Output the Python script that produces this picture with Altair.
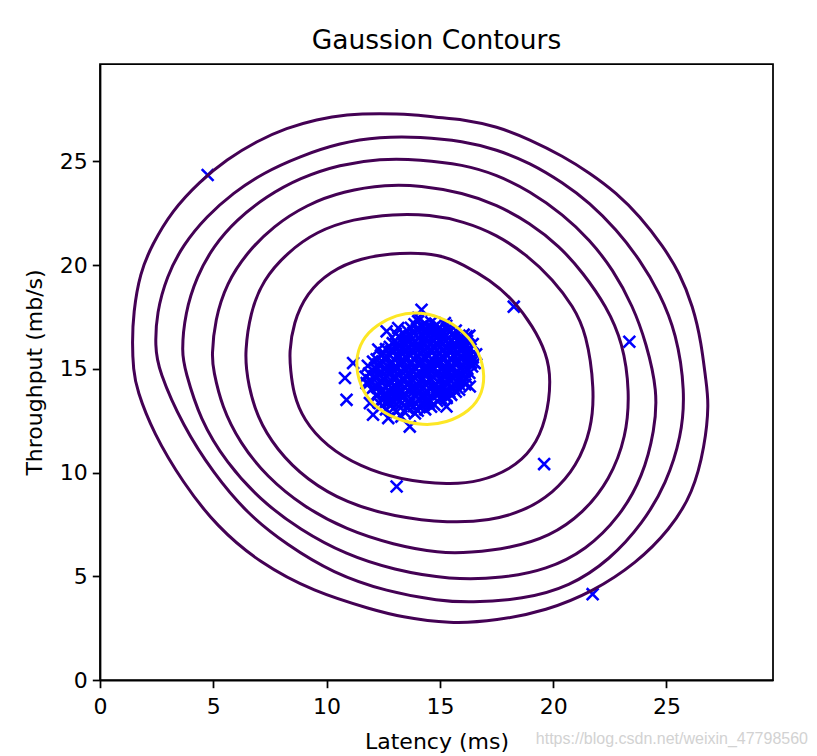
import altair as alt
import pandas as pd

# ---- contour lines (data units), clockwise ----
c1_x = [1.47, 1.42, 1.47, 1.76, 2.30, 3.16, 4.41, 5.59, 6.91, 8.24, 9.56, 10.88, 12.35, 13.82, 14.78, 16.03, 17.50, 18.97, 20.44, 21.61, 22.79, 23.82, 24.85, 25.58, 26.17, 26.54, 26.73, 26.88, 26.69, 26.17, 25.14, 23.67, 21.76, 19.70, 17.50, 15.44, 13.23, 12.06, 9.41, 7.06, 5.15, 3.67, 2.35, 1.62]
c1_y = [14.96, 16.25, 17.70, 19.63, 20.99, 22.60, 24.05, 25.10, 25.98, 26.62, 27.03, 27.27, 27.32, 27.27, 27.13, 27.03, 26.70, 26.06, 25.25, 24.45, 23.49, 22.36, 20.91, 19.63, 18.02, 16.25, 14.48, 13.35, 11.26, 9.01, 7.24, 5.63, 4.26, 3.34, 2.86, 2.70, 3.05, 3.38, 4.26, 5.63, 7.40, 9.49, 11.91, 14.00]

c2_x = [2.57, 2.43, 2.50, 2.94, 3.67, 4.71, 5.88, 7.20, 8.82, 10.59, 12.35, 14.12, 16.03, 17.50, 18.97, 20.44, 21.61, 22.79, 23.82, 24.70, 25.44, 25.83, 25.66, 25.00, 23.96, 22.50, 20.73, 18.67, 16.32, 15.00, 12.65, 10.29, 8.24, 6.47, 5.00, 3.67]
c2_y = [14.96, 16.09, 17.70, 19.46, 20.99, 22.36, 23.49, 24.45, 25.25, 25.90, 26.19, 26.19, 25.98, 25.58, 24.94, 23.97, 23.01, 21.72, 20.27, 18.66, 16.73, 13.90, 11.74, 9.49, 7.56, 5.79, 4.50, 3.89, 3.73, 3.81, 4.26, 5.15, 6.52, 8.04, 9.98, 12.22]

c3_x = [3.75, 3.60, 3.75, 4.27, 5.00, 6.03, 7.35, 8.82, 10.59, 12.35, 14.12, 16.03, 17.50, 18.97, 20.44, 21.61, 22.64, 23.52, 24.11, 24.61, 24.48, 23.96, 22.94, 21.47, 19.70, 17.79, 15.44, 12.94, 10.88, 8.82, 7.06, 5.59, 4.41]
c3_y = [14.96, 15.77, 17.70, 19.46, 20.91, 22.20, 23.32, 24.21, 24.85, 25.14, 25.10, 24.85, 24.37, 23.57, 22.44, 21.23, 19.79, 18.02, 16.25, 13.90, 12.07, 9.81, 7.88, 6.27, 5.31, 4.91, 4.83, 5.31, 6.03, 7.24, 8.69, 10.46, 12.55]

c4_x = [5.00, 4.93, 5.07, 5.59, 6.47, 7.64, 9.12, 10.73, 12.65, 14.12, 16.03, 17.50, 18.97, 20.29, 21.32, 22.35, 23.08, 23.38, 23.23, 22.50, 21.32, 19.85, 18.09, 16.32, 15.00, 12.94, 10.88, 8.97, 7.35, 6.18, 5.37]
c4_y = [14.96, 15.60, 17.37, 19.14, 20.59, 21.88, 22.92, 23.57, 23.89, 23.84, 23.49, 22.92, 22.04, 20.91, 19.63, 18.02, 16.25, 13.90, 11.74, 9.65, 8.04, 6.92, 6.36, 6.14, 6.11, 6.52, 7.24, 8.36, 9.81, 11.42, 13.19]

c5_x = [6.47, 6.40, 6.62, 7.20, 8.24, 9.56, 11.17, 12.94, 14.56, 16.03, 17.50, 18.82, 20.00, 20.88, 21.47, 21.83, 21.69, 21.03, 20.00, 18.67, 17.20, 15.44, 12.94, 10.88, 9.12, 7.79, 6.91, 6.54]
c5_y = [14.96, 15.77, 17.70, 19.30, 20.59, 21.64, 22.23, 22.47, 22.44, 22.12, 21.48, 20.51, 19.30, 18.02, 16.73, 14.00, 12.07, 10.29, 9.01, 8.12, 7.69, 7.56, 7.88, 8.53, 9.65, 11.10, 12.71, 14.32]

c6_x = [8.41, 8.35, 8.53, 9.12, 10.15, 11.47, 13.23, 15.00, 16.03, 17.20, 18.23, 19.11, 19.70, 19.92, 19.70, 19.11, 18.09, 16.76, 15.44, 13.23, 11.47, 10.00, 8.97, 8.53]
c6_y = [14.96, 15.77, 17.21, 18.66, 19.70, 20.35, 20.62, 20.54, 20.03, 19.30, 18.34, 17.05, 15.77, 14.48, 12.55, 11.10, 10.13, 9.57, 9.41, 9.65, 10.29, 11.26, 12.55, 13.84]

c7_x = [11.25, 11.54, 12.21, 13.09, 13.97, 15.00, 15.88, 16.62, 16.98, 16.91, 16.32, 15.29, 14.26, 13.09, 12.06, 11.47]
c7_y = [15.36, 16.41, 17.13, 17.61, 17.75, 17.53, 16.97, 16.09, 14.96, 13.84, 12.95, 12.39, 12.26, 12.55, 13.19, 14.15]

levels = ["1e-20", "1e-17", "1e-14", "1e-11", "1e-08", "1e-05", "1e-02"]
level_colors = ["#440154", "#440154", "#440154", "#440154", "#440154", "#440154", "#fde725"]
contour_xs = [c1_x, c2_x, c3_x, c4_x, c5_x, c6_x, c7_x]
contour_ys = [c1_y, c2_y, c3_y, c4_y, c5_y, c6_y, c7_y]

# ---- samples (latency, throughput) ----
points = [
    (12.62, 13.05), (13.08, 12.92), (13.55, 13.12), (14.02, 12.98), (14.61, 13.18), (13.30, 12.70), (12.85, 13.25),
    (12.30, 13.38), (12.92, 13.45), (13.31, 13.33), (13.78, 13.50), (14.24, 13.36), (14.88, 13.46), (15.30, 13.60),
    (12.18, 13.72), (12.61, 13.64), (13.04, 13.78), (13.42, 13.66), (13.93, 13.74), (14.31, 13.62), (14.79, 13.80), (15.27, 13.70), (15.70, 13.90),
    (11.98, 14.02), (12.47, 13.94), (12.88, 14.08), (13.29, 13.96), (13.71, 14.05), (14.12, 13.93), (14.53, 14.07), (14.98, 13.98), (15.46, 14.10), (15.90, 14.20),
    (11.86, 14.30), (12.33, 14.22), (12.79, 14.36), (13.20, 14.25), (13.62, 14.33), (14.03, 14.21), (14.41, 14.38), (14.83, 14.27), (15.24, 14.35), (15.68, 14.24), (16.05, 14.40),
    (11.72, 14.62), (12.18, 14.55), (12.63, 14.68), (13.07, 14.57), (13.49, 14.66), (13.91, 14.54), (14.33, 14.69), (14.72, 14.58), (15.13, 14.67), (15.57, 14.56), (15.98, 14.70), (16.30, 14.80),
    (12.04, 14.92), (12.42, 14.85), (12.88, 14.97), (13.31, 14.88), (13.72, 14.95), (14.09, 14.83), (14.52, 14.99), (14.91, 14.87), (15.33, 14.96), (15.77, 14.89), (16.21, 15.00),
    (11.82, 15.15), (12.27, 15.22), (12.71, 15.12), (13.18, 15.25), (13.58, 15.16), (14.02, 15.24), (14.43, 15.11), (14.81, 15.23), (15.22, 15.14), (15.63, 15.26), (16.02, 15.17), (16.38, 15.30),
    (12.21, 15.46), (12.58, 15.54), (13.02, 15.43), (13.47, 15.56), (13.88, 15.47), (14.29, 15.55), (14.70, 15.44), (15.08, 15.57), (15.49, 15.48), (15.91, 15.55), (16.29, 15.60),
    (12.52, 15.76), (12.93, 15.84), (13.38, 15.73), (13.81, 15.85), (14.19, 15.77), (14.62, 15.86), (15.01, 15.74), (15.43, 15.83), (15.82, 15.78), (16.20, 15.90),
    (12.79, 16.06), (13.21, 16.13), (13.66, 16.04), (14.08, 16.15), (14.49, 16.07), (14.93, 16.16), (15.32, 16.05), (15.71, 16.14), (16.08, 16.20),
    (13.03, 16.36), (13.48, 16.44), (13.92, 16.35), (14.31, 16.46), (14.74, 16.38), (15.12, 16.47), (15.52, 16.37), (15.90, 16.50),
    (13.41, 16.66), (13.83, 16.74), (14.22, 16.65), (14.63, 16.76), (15.04, 16.68), (15.42, 16.80),
    (13.72, 16.98), (14.18, 17.05), (14.69, 16.96), (15.28, 17.08),
    (14.04, 17.30), (14.62, 17.25),
    (12.45, 13.22), (12.95, 13.10), (13.42, 12.95), (13.85, 13.20), (14.35, 13.05), (14.75, 13.28),
    (12.48, 13.52), (12.75, 13.40), (13.15, 13.58), (13.58, 13.42), (14.05, 13.55), (14.55, 13.48), (15.05, 13.58), (15.50, 13.75),
    (12.35, 13.85), (12.80, 13.88), (13.22, 13.82), (13.65, 13.90), (14.05, 13.80), (14.45, 13.88), (14.95, 13.78), (15.42, 13.88), (15.85, 14.00),
    (12.12, 14.15), (12.62, 14.12), (13.05, 14.18), (13.45, 14.12), (13.88, 14.16), (14.28, 14.12), (14.72, 14.18), (15.18, 14.14), (15.62, 14.06), (16.12, 14.25),
    (11.95, 14.45), (12.42, 14.42), (12.98, 14.48), (13.38, 14.44), (13.78, 14.47), (14.18, 14.43), (14.62, 14.48), (15.02, 14.46), (15.42, 14.47), (15.85, 14.45),
    (11.88, 14.78), (12.30, 14.72), (12.78, 14.80), (13.17, 14.74), (13.60, 14.78), (14.00, 14.72), (14.42, 14.80), (14.85, 14.73), (15.25, 14.80), (15.68, 14.74), (16.10, 14.86),
    (12.15, 15.05), (12.60, 15.02), (13.05, 15.08), (13.45, 15.03), (13.90, 15.06), (14.30, 15.02), (14.68, 15.07), (15.10, 15.03), (15.48, 15.08), (15.92, 15.04), (16.42, 15.12),
    (12.05, 15.35), (12.45, 15.36), (12.90, 15.32), (13.35, 15.37), (13.75, 15.33), (14.18, 15.38), (14.58, 15.32), (14.98, 15.38), (15.38, 15.33), (15.78, 15.38), (16.18, 15.42),
    (12.40, 15.65), (12.78, 15.66), (13.22, 15.62), (13.65, 15.68), (14.05, 15.63), (14.45, 15.68), (14.88, 15.62), (15.28, 15.68), (15.68, 15.64), (16.08, 15.72), (16.45, 15.55),
    (12.62, 15.95), (13.08, 15.96), (13.52, 15.93), (13.95, 15.98), (14.35, 15.94), (14.78, 15.99), (15.18, 15.93), (15.58, 15.98), (15.98, 16.02), (16.35, 15.95),
    (12.92, 16.24), (13.35, 16.26), (13.80, 16.22), (14.20, 16.28), (14.62, 16.23), (15.02, 16.29), (15.42, 16.22), (15.82, 16.30), (16.20, 16.35),
    (13.22, 16.55), (13.65, 16.58), (14.05, 16.52), (14.48, 16.58), (14.88, 16.55), (15.28, 16.60), (15.68, 16.58), (16.05, 16.65),
    (13.55, 16.85), (13.98, 16.88), (14.45, 16.86), (14.88, 16.90), (15.30, 16.92), (15.70, 16.85),
    (13.88, 17.15), (14.35, 17.18), (14.85, 17.12),
    (12.75, 13.60), (13.20, 13.45), (13.65, 13.30), (14.10, 13.15), (14.50, 13.35), (13.90, 12.85),
    (12.55, 13.80), (13.00, 13.95), (13.45, 13.82), (13.90, 13.98), (14.35, 13.85), (14.80, 13.95), (15.20, 13.90),
    (12.25, 14.10), (12.70, 14.25), (13.12, 14.05), (13.55, 14.22), (13.98, 14.08), (14.40, 14.22), (14.90, 14.10), (15.35, 14.25), (15.80, 14.35),
    (12.10, 14.65), (12.55, 14.50), (13.00, 14.65), (13.42, 14.50), (13.85, 14.62), (14.25, 14.50), (14.68, 14.65), (15.10, 14.50), (15.50, 14.65), (15.90, 14.58),
    (12.20, 14.95), (12.65, 14.88), (13.10, 15.00), (13.50, 14.90), (13.95, 15.00), (14.35, 14.90), (14.75, 15.00), (15.15, 14.90), (15.55, 15.00), (16.00, 14.95),
    (12.35, 15.28), (12.80, 15.20), (13.25, 15.33), (13.68, 15.22), (14.10, 15.32), (14.52, 15.20), (14.92, 15.32), (15.32, 15.22), (15.72, 15.32), (16.10, 15.28),
    (12.60, 15.48), (13.10, 15.62), (13.55, 15.48), (13.98, 15.62), (14.40, 15.50), (14.80, 15.62), (15.20, 15.50), (15.60, 15.62), (16.00, 15.50),
    (12.85, 15.85), (13.30, 15.98), (13.72, 15.86), (14.12, 16.00), (14.55, 15.88), (14.98, 16.02), (15.38, 15.90), (15.78, 16.02), (16.15, 16.05),
    (13.10, 16.20), (13.55, 16.32), (14.00, 16.20), (14.42, 16.32), (14.85, 16.22), (15.25, 16.34), (15.65, 16.25), (16.00, 16.40),
    (13.50, 16.55), (13.95, 16.62), (14.38, 16.70), (14.80, 16.65), (15.20, 16.72), (15.60, 16.68),
    (14.00, 16.95), (14.50, 17.00), (15.00, 16.98),
    (14.19, 17.85), (14.04, 17.46), (12.65, 16.81), (13.16, 16.97), (15.22, 17.21), (16.18, 16.57), (16.54, 15.28), (16.18, 14.56),
    (12.28, 15.93), (11.17, 15.28), (11.76, 14.32), (12.05, 12.79), (12.72, 12.63), (13.67, 12.22), (14.41, 13.35), (11.91, 13.35),
    (16.45, 16.20), (16.60, 15.70), (16.30, 16.60), (15.29, 13.19), (16.32, 14.15), (13.05, 16.70),
    (10.81, 14.56), (10.88, 13.51), (13.09, 9.33), (4.75, 24.35), (18.26, 18.00), (23.36, 16.31), (19.60, 10.41), (21.74, 4.14),
]

x_ticks = [0, 5, 10, 15, 20, 25]
y_ticks = [0, 5, 10, 15, 20, 25]
title_text = "Gaussion Contours"
x_title = "Latency (ms)"
y_title = "Throughput (mb/s)"
watermark = "https://blog.csdn.net/weixin_47798560"

# ---- tables ----
rows = []
for lvl, xs, ys in zip(levels, contour_xs, contour_ys):
    for i, (x, y) in enumerate(zip(xs, ys)):
        rows.append({"level": lvl, "idx": i, "x": x, "y": y})
contour_df = pd.DataFrame(rows)
pts_df = pd.DataFrame(points, columns=["x", "y"])

FONT = "DejaVu Sans"
xscale = alt.Scale(domain=[0, 29.7], nice=False, zero=False)
yscale = alt.Scale(domain=[0, 29.7], nice=False, zero=False)

scatter = alt.Chart(pts_df).mark_point(
    shape="M-1,-1L1,1M1,-1L-1,1",
    filled=False,
    stroke="#0000ff",
    strokeWidth=2.6,
    size=140,
    opacity=1,
).encode(
    x=alt.X("x:Q", scale=xscale, axis=alt.Axis(
        values=x_ticks, title=x_title, titleY=68, titleBaseline="alphabetic",
        titleAlign="center", labelPadding=9, labelFlush=False)),
    y=alt.Y("y:Q", scale=yscale, axis=alt.Axis(
        values=y_ticks, title=y_title, titleX=-59, titleY=308, titleAngle=270,
        titleBaseline="alphabetic", titleAlign="center", labelPadding=5, labelFlush=False)),
)

lines = alt.Chart(contour_df).mark_line(
    interpolate="basis-closed", strokeWidth=3, clip=True
).encode(
    x=alt.X("x:Q", scale=xscale),
    y=alt.Y("y:Q", scale=yscale),
    color=alt.Color("level:N", scale=alt.Scale(domain=levels, range=level_colors), legend=None),
    order=alt.Order("idx:Q"),
)

mark_wm = alt.Chart(pd.DataFrame({"t": [watermark]})).mark_text(
    align="right", baseline="alphabetic",
    font="Liberation Sans", fontSize=16, color="#d2d2d2",
).encode(x=alt.value(708), y=alt.value(680), text="t:N")

chart = alt.layer(scatter, lines, mark_wm).properties(
    width=673,
    height=616,
    title=alt.TitleParams(title_text, anchor="middle", offset=14, baseline="alphabetic", dy=25,
                          fontSize=26.5, fontWeight="normal", font=FONT, color="black"),
    autosize=alt.AutoSizeParams(type="none"),
    padding={"left": 92, "top": 56, "right": 36, "bottom": 80},
).configure_view(
    stroke="black", strokeWidth=1.75
).configure_axis(
    grid=False,
    domainColor="black", domainWidth=1.75,
    tickColor="black", tickWidth=1.75, tickSize=7.7,
    labelColor="black", labelFont=FONT, labelFontSize=22,
    titleColor="black", titleFont=FONT, titleFontSize=22, titleFontWeight="normal",
)

chart.save("out.html", embed_options={"renderer": "svg", "actions": False})
